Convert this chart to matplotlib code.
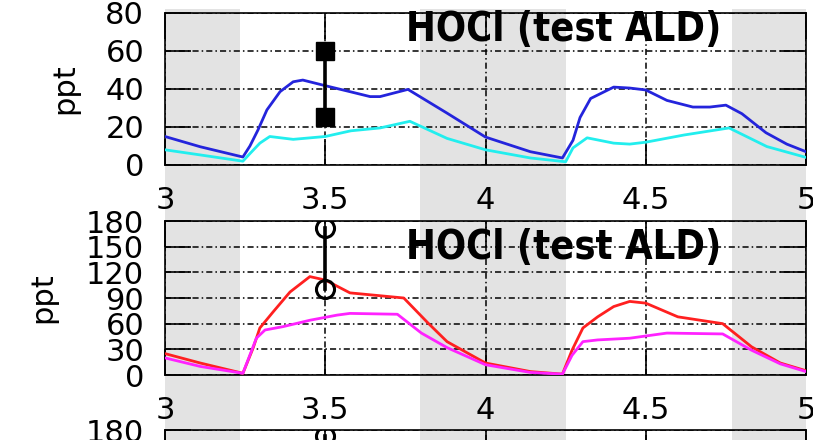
import matplotlib
matplotlib.use('Agg')
import matplotlib.pyplot as plt

# night-time bands (shaded grey)
night_bands = [(2.78, 3.235), (3.795, 4.25), (4.77, 5.24)]

# panel 1: HOCl, two model runs
blue_x = [3.00, 3.11, 3.243, 3.265, 3.29, 3.318, 3.359, 3.40, 3.43, 3.494, 3.577, 3.64,
          3.671, 3.758, 3.88, 4.00, 4.14, 4.24, 4.273, 4.295, 4.328, 4.40, 4.45, 4.50,
          4.566, 4.647, 4.70, 4.75, 4.80, 4.875, 4.94, 5.00]
blue_y = [15, 9.6, 4.2, 10, 18.4, 29, 38.6, 43.8, 44.7, 42, 38.6, 36,
          36, 39.8, 27.3, 14.7, 7, 3.7, 13, 25, 35, 41, 40.5, 39.5,
          34, 30.5, 30.5, 31.5, 27, 17, 11, 7]
cyan_x = [3.00, 3.11, 3.243, 3.265, 3.296, 3.327, 3.40, 3.50, 3.58, 3.671, 3.764, 3.88,
          4.00, 4.14, 4.25, 4.273, 4.317, 4.40, 4.45, 4.50, 4.62, 4.76, 4.878, 5.00]
cyan_y = [8, 5.3, 2, 6, 11.5, 15, 13.5, 15, 18, 19.5, 23, 14,
          8, 3.7, 1.7, 9, 14.3, 11.5, 11, 12, 15.8, 19.5, 9.7, 4]
obs1_x = [3.5, 3.5]
obs1_y = [25, 60]

# panel 2
red_x = [3.00, 3.11, 3.243, 3.275, 3.296, 3.337, 3.39, 3.452, 3.50, 3.577, 3.745, 3.82,
         3.88, 4.00, 4.14, 4.24, 4.27, 4.304, 4.35, 4.40, 4.45, 4.50, 4.60, 4.74,
         4.83, 4.92, 5.00]
red_y = [25, 14, 2, 31.6, 55, 73.6, 97, 115, 111, 96, 90, 61,
         39, 14, 4, 1, 29, 55, 68, 80, 86, 84, 68, 60,
         33, 14, 5]
mag_x = [3.00, 3.11, 3.243, 3.285, 3.312, 3.368, 3.452, 3.537, 3.577, 3.725, 3.80, 3.88,
         4.00, 4.14, 4.24, 4.27, 4.304, 4.35, 4.45, 4.566, 4.74, 4.83, 4.92, 5.00]
mag_y = [20, 10, 2, 43, 52.6, 56.5, 64, 70, 72, 71, 49, 32,
         12, 3, 1, 23, 39, 41, 43, 49, 48, 29, 13, 4]
obs2_x = [3.5, 3.5]
obs2_y = [100, 172]

# panel 3 (only its top edge is visible)
obs3_x = [3.5, 3.5]
obs3_y = [100, 173]

xticks = [3, 3.5, 4, 4.5, 5]
xlabels = ['3', '3.5', '4', '4.5', '5']
title = 'HOCl (test ALD)'

fig = plt.figure(figsize=(8.13, 4.40), dpi=100)
W, H = 813.0, 440.0

bg = fig.add_axes([165 / W, 0, 641 / W, 431 / H])
bg.set_xlim(3, 5)
bg.set_ylim(0, 1)
for a, b in night_bands:
    bg.axvspan(a, b, color='#e3e3e3', lw=0)
bg.axis('off')
bg.set_zorder(0)


def style_panel(ax, ymax, yticks):
    ax.set_zorder(1)
    ax.patch.set_visible(False)
    ax.set_xlim(3, 5)
    ax.set_ylim(0, ymax)
    ax.set_xticks(xticks)
    ax.set_xticklabels(xlabels)
    ax.set_yticks(yticks)
    ax.tick_params(direction='in', length=19, width=1.2, top=True, right=True,
                   labelsize=22, pad=15, colors='black')
    ax.grid(True, color='black', lw=1.1, linestyle=(0, (4, 2, 1, 2)), zorder=1)
    for s in ax.spines.values():
        s.set_linewidth(1.2)
    ax.set_ylabel('ppt', fontsize=22)


# top panel
ax1 = fig.add_axes([165 / W, 1 - 165 / H, 641 / W, 152 / H])
style_panel(ax1, 80, [0, 20, 40, 60, 80])
ax1.plot(blue_x, blue_y, color='#2424dc', lw=2, zorder=3)
ax1.plot(cyan_x, cyan_y, color='#22eeee', lw=2, zorder=3)
ax1.plot(obs1_x, obs1_y, color='black', lw=2.6, marker='s', ms=13, zorder=4)
ax1.text(0.622, 0.885, title, transform=ax1.transAxes, ha='center', va='center',
         fontsize=28.5, fontweight='bold', fontstretch='condensed', zorder=5)
ax1.yaxis.set_label_coords(-0.133, 0.5)

# middle panel
ax2 = fig.add_axes([165 / W, 1 - 375 / H, 641 / W, 154 / H])
style_panel(ax2, 180, [0, 30, 60, 90, 120, 150, 180])
ax2.plot(red_x, red_y, color='#ff2020', lw=2, zorder=3)
ax2.plot(mag_x, mag_y, color='#ff22ff', lw=2, zorder=3)
ax2.plot(obs2_x, obs2_y, color='black', lw=2.6, marker='o', ms=13, mfc='none',
         mew=2.2, zorder=4)
ax2.text(0.622, 0.825, title, transform=ax2.transAxes, ha='center', va='center',
         fontsize=28.5, fontweight='bold', fontstretch='condensed', zorder=5)
ax2.yaxis.set_label_coords(-0.168, 0.5)

# bottom panel, cut off by the figure edge
ax3 = fig.add_axes([165 / W, 1 - 584 / H, 641 / W, 154 / H])
style_panel(ax3, 180, [0, 30, 60, 90, 120, 150, 180])
ax3.plot(obs3_x, obs3_y, color='black', lw=2.6, marker='o', ms=13, mfc='none',
         mew=2.2, zorder=4)

fig.savefig('out.png', dpi=100)
